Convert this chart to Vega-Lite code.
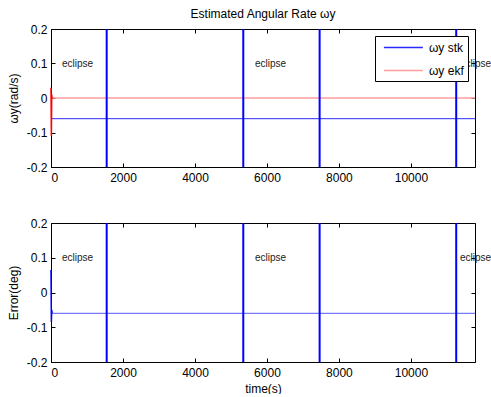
{
  "$schema": "https://vega.github.io/schema/vega-lite/v6.json",
  "padding": {"left": 7, "top": 8, "right": 0, "bottom": 0},
  "config": {
    "font": "Liberation Sans",
    "view": {"stroke": null},
    "axis": {
      "domainColor": "#000", "tickColor": "#000", "labelColor": "#000", "titleColor": "#000",
      "labelFontSize": 12, "titleFontSize": 12, "titleFontWeight": "normal",
      "labelFont": "Liberation Sans", "titleFont": "Liberation Sans",
      "grid": false, "tickSize": -4, "labelPadding": 8, "titlePadding": 6
    },
    "axisBottom": {"labelPadding": 9},
    "title": {"fontSize": 12, "fontWeight": "normal", "color": "#000", "font": "Liberation Sans"}
  },
  "datasets": {
    "est": [
      {"t": 0, "v": -0.06, "s": "ωy stk"},
      {"t": 11780, "v": -0.06, "s": "ωy stk"},
      {"t": 0, "v": 0, "s": "ωy ekf"},
      {"t": 11780, "v": 0, "s": "ωy ekf"}
    ],
    "est_tr": [
      {"t": 0, "v": 0.03}, {"t": 10, "v": -0.11}, {"t": 20, "v": 0.01}, {"t": 30, "v": 0}
    ],
    "err": [
      {"t": 0, "v": -0.06}, {"t": 11780, "v": -0.06}
    ],
    "err_tr": [
      {"t": 0, "v": 0.065}, {"t": 10, "v": -0.085}, {"t": 20, "v": -0.05}, {"t": 30, "v": -0.06}
    ],
    "ecl": [{"t": 1547}, {"t": 5342}, {"t": 7463}, {"t": 11258}],
    "lbl": [
      {"t": 305, "v": 0.1, "txt": "eclipse"},
      {"t": 5667, "v": 0.1, "txt": "eclipse"},
      {"t": 11361, "v": 0.1, "txt": "eclipse"}
    ]
  },
  "bounds": "flush",
  "spacing": 56,
  "resolve": {"legend": {"color": "independent"}},
  "vconcat": [
    {
      "width": 424,
      "height": 138,
      "title": {"text": "Estimated Angular Rate ωy", "frame": "group", "offset": 2},
      "resolve": {"axis": {"x": "independent", "y": "independent"}},
      "layer": [
        {
          "data": {"name": "est"},
          "mark": {"type": "line"},
          "encoding": {
            "x": {"field": "t", "type": "quantitative", "scale": {"domain": [0, 11780], "nice": false, "zero": false},
                  "axis": {"orient": "bottom", "values": [0, 2000, 4000, 6000, 8000, 10000], "format": "d", "title": null}},
            "y": {"field": "v", "type": "quantitative", "scale": {"domain": [-0.2, 0.2], "nice": false, "zero": false},
                  "axis": {"orient": "left", "values": [-0.2, -0.1, 0, 0.1, 0.2], "title": "ωy(rad/s)",
                           "labelExpr": "datum.value == 0 ? '0' : (datum.value < 0 ? '-' + format(-datum.value, '.1f') : format(datum.value, '.1f'))"}},
            "color": {"field": "s", "type": "nominal",
                      "scale": {"domain": ["ωy stk", "ωy ekf"], "range": ["#2a2aff", "#ff9c9c"]},
                      "legend": {"orient": "none", "legendX": 324, "legendY": 7, "title": null,
                                 "symbolType": "M-0.4,0H5.6", "symbolSize": 169,
                                 "labelFontSize": 12, "labelColor": "#000", "labelOffset": 35,
                                 "padding": 4, "rowPadding": 9, "strokeColor": "#000", "fillColor": "#fff",
                                 "cornerRadius": 0}},
            "strokeWidth": {"field": "s", "type": "nominal",
                            "scale": {"domain": ["ωy stk", "ωy ekf"], "range": [1, 1.6]}, "legend": null}
          }
        },
        {
          "data": {"name": "est_tr"},
          "mark": {"type": "line", "color": "#ff0000", "strokeWidth": 1.5},
          "encoding": {
            "x": {"field": "t", "type": "quantitative", "scale": {"domain": [0, 11780], "nice": false, "zero": false}, "axis": null},
            "y": {"field": "v", "type": "quantitative", "scale": {"domain": [-0.2, 0.2], "nice": false, "zero": false}, "axis": null}
          }
        },
        {
          "data": {"name": "ecl"},
          "mark": {"type": "rule", "color": "#0000ff", "strokeWidth": 2},
          "encoding": {
            "x": {"field": "t", "type": "quantitative", "scale": {"domain": [0, 11780], "nice": false, "zero": false},
                  "axis": {"orient": "top", "labels": false, "title": null, "values": [0, 2000, 4000, 6000, 8000, 10000]}}
          }
        },
        {
          "data": {"name": "lbl"},
          "mark": {"type": "text", "align": "left", "baseline": "middle", "fontSize": 10, "color": "#222", "font": "Liberation Sans"},
          "encoding": {
            "x": {"field": "t", "type": "quantitative", "scale": {"domain": [0, 11780], "nice": false, "zero": false}, "axis": null},
            "y": {"field": "v", "type": "quantitative", "scale": {"domain": [-0.2, 0.2], "nice": false, "zero": false},
                  "axis": {"orient": "right", "labels": false, "title": null, "values": [-0.2, -0.1, 0, 0.1, 0.2]}},
            "text": {"field": "txt"}
          }
        }
      ]
    },
    {
      "width": 424,
      "height": 139,
      "resolve": {"axis": {"x": "independent", "y": "independent"}},
      "layer": [
        {
          "data": {"name": "err"},
          "mark": {"type": "line", "color": "#7a7aff", "strokeWidth": 1.2},
          "encoding": {
            "x": {"field": "t", "type": "quantitative", "scale": {"domain": [0, 11780], "nice": false, "zero": false},
                  "axis": {"orient": "bottom", "values": [0, 2000, 4000, 6000, 8000, 10000], "format": "d", "title": "time(s)", "titlePadding": 5}},
            "y": {"field": "v", "type": "quantitative", "scale": {"domain": [-0.2, 0.2], "nice": false, "zero": false},
                  "axis": {"orient": "left", "values": [-0.2, -0.1, 0, 0.1, 0.2], "title": "Error(deg)",
                           "labelExpr": "datum.value == 0 ? '0' : (datum.value < 0 ? '-' + format(-datum.value, '.1f') : format(datum.value, '.1f'))"}}
          }
        },
        {
          "data": {"name": "err_tr"},
          "mark": {"type": "line", "color": "#0000ff", "strokeWidth": 1.5},
          "encoding": {
            "x": {"field": "t", "type": "quantitative", "scale": {"domain": [0, 11780], "nice": false, "zero": false}, "axis": null},
            "y": {"field": "v", "type": "quantitative", "scale": {"domain": [-0.2, 0.2], "nice": false, "zero": false}, "axis": null}
          }
        },
        {
          "data": {"name": "ecl"},
          "mark": {"type": "rule", "color": "#0000ff", "strokeWidth": 2},
          "encoding": {
            "x": {"field": "t", "type": "quantitative", "scale": {"domain": [0, 11780], "nice": false, "zero": false},
                  "axis": {"orient": "top", "labels": false, "title": null, "values": [0, 2000, 4000, 6000, 8000, 10000]}}
          }
        },
        {
          "data": {"name": "lbl"},
          "mark": {"type": "text", "align": "left", "baseline": "middle", "fontSize": 10, "color": "#222", "font": "Liberation Sans"},
          "encoding": {
            "x": {"field": "t", "type": "quantitative", "scale": {"domain": [0, 11780], "nice": false, "zero": false}, "axis": null},
            "y": {"field": "v", "type": "quantitative", "scale": {"domain": [-0.2, 0.2], "nice": false, "zero": false},
                  "axis": {"orient": "right", "labels": false, "title": null, "values": [-0.2, -0.1, 0, 0.1, 0.2]}},
            "text": {"field": "txt"}
          }
        }
      ]
    }
  ]
}
